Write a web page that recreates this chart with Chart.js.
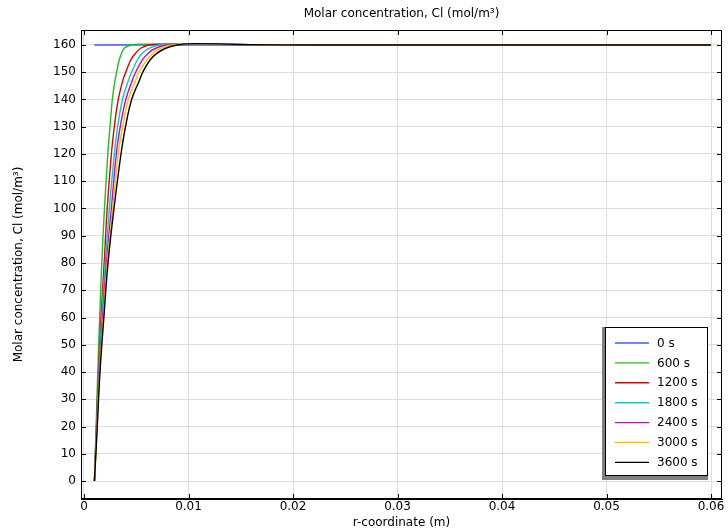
<!DOCTYPE html>
<html>
<head>
<meta charset="utf-8">
<script src="https://cdn.jsdelivr.net/npm/chart.js@4"></script>
<style>
  html, body { margin: 0; padding: 0; background: #fff; }
  #wrap { width: 728px; height: 530px; position: relative; }
</style>
</head>
<body>
<div id="wrap"><canvas id="chart"></canvas></div>
<script>
// concentration levels shared by the rising part of each profile (mol/m^3)
const riseConc = [0, 20, 40, 60, 80, 100, 120, 130, 140, 147, 150, 154.5, 157, 158.8, 160]

// r-coordinate (m) where each time step reaches those levels
const r600 = [0.001, 0.00116, 0.00132, 0.0015, 0.0017, 0.00196, 0.00228, 0.00249, 0.00271, 0.00297, 0.00312, 0.00337, 0.0036, 0.00385, 0.0045]
const r1200 = [0.001, 0.00119, 0.00139, 0.00163, 0.00193, 0.00222, 0.00262, 0.0029, 0.00328, 0.00372, 0.004, 0.00447, 0.00494, 0.00543, 0.0062]
const r1800 = [0.001, 0.00121, 0.00143, 0.0017, 0.00204, 0.00243, 0.0029, 0.00322, 0.00368, 0.00425, 0.00456, 0.0051, 0.00558, 0.00622, 0.0072]
const r2400 = [0.001, 0.00123, 0.00147, 0.00179, 0.00215, 0.00262, 0.00309, 0.00347, 0.004, 0.00462, 0.00494, 0.00558, 0.00615, 0.00686, 0.0079]
const r3000 = [0.001, 0.00125, 0.0015, 0.00185, 0.00223, 0.00275, 0.00328, 0.0037, 0.00424, 0.00494, 0.00526, 0.006, 0.0066, 0.00734, 0.0084]
const r3600 = [0.001, 0.00127, 0.00153, 0.0019, 0.0023, 0.00287, 0.00354, 0.00397, 0.00456, 0.0053, 0.00562, 0.00632, 0.007, 0.00782, 0.0089]

// small overshoot just past the front, then flat
const peakR = [0.0058, 0.0075, 0.0085, 0.0093, 0.0099, 0.0106]
const peakConc = [160.25, 160.3, 160.35, 160.4, 160.45, 160.5]
const tailR = [0.016, 0.022, 0.06]
const tailConc = [160.15, 160, 160]

// initial profile
const r0 = [0.001, 0.06]
const c0 = [160, 160]

const seriesNames = ['0 s', '600 s', '1200 s', '1800 s', '2400 s', '3000 s', '3600 s']
const seriesColors = ['#3a5cff', '#22bb22', '#e00000', '#00cccc', '#cc00cc', '#ffbf00', '#000000']

const xTicks = [0, 0.01, 0.02, 0.03, 0.04, 0.05, 0.06]
const yTicks = [0, 10, 20, 30, 40, 50, 60, 70, 80, 90, 100, 110, 120, 130, 140, 150, 160]

const FONT = 'DejaVu Sans'

const toPoints = (xs, ys) => xs.map((x, i) => ({ x: x, y: ys[i] }))

const risingSets = [r600, r1200, r1800, r2400, r3000, r3600]
const seriesData = [toPoints(r0, c0)].concat(risingSets.map((rs, i) =>
  toPoints(rs, riseConc)
    .concat([{ x: peakR[i], y: peakConc[i] }])
    .concat(toPoints(tailR, tailConc))
))

const datasets = seriesNames.map((name, i) => ({
  label: name,
  data: seriesData[i],
  borderColor: seriesColors[i],
  backgroundColor: seriesColors[i],
  borderWidth: 1.4,
  pointRadius: 0,
  tension: 0.4,
  order: seriesNames.length - i,
}))

// frame, inward tick marks and the boxed legend
const framePlugin = {
  id: 'frame',
  afterDatasetsDraw(chart) {
    const { ctx, chartArea: a, scales } = chart
    ctx.save()
    ctx.strokeStyle = '#000'
    ctx.lineWidth = 1
    ctx.beginPath()
    yTicks.forEach(v => {
      const py = Math.round(scales.y.getPixelForValue(v)) + 0.5
      ctx.moveTo(a.left, py); ctx.lineTo(a.left + 5, py)
      ctx.moveTo(a.right, py); ctx.lineTo(a.right - 5, py)
    })
    xTicks.forEach(v => {
      const px = Math.round(scales.x.getPixelForValue(v)) + 0.5
      ctx.moveTo(px, a.bottom); ctx.lineTo(px, a.bottom - 5)
      ctx.moveTo(px, a.top); ctx.lineTo(px, a.top + 5)
    })
    ctx.stroke()
    ctx.strokeRect(Math.round(a.left) + 0.5, Math.round(a.top) + 0.5,
      Math.round(a.right - a.left) - 1, Math.round(a.bottom - a.top) - 1)

    // legend
    const boxR = a.right - 14
    const boxB = a.bottom - 23
    const boxW = 103
    const boxH = 149
    const boxL = boxR - boxW
    const boxT = boxB - boxH
    ctx.fillStyle = '#808080'
    ctx.fillRect(boxL - 3, boxT, boxW + 3, boxH + 4)
    ctx.fillStyle = '#fff'
    ctx.fillRect(boxL, boxT, boxW, boxH)
    ctx.strokeStyle = '#000'
    ctx.strokeRect(boxL + 0.5, boxT + 0.5, boxW - 1, boxH - 1)
    ctx.font = '12px "' + FONT + '"'
    ctx.textBaseline = 'middle'
    ctx.textAlign = 'left'
    seriesNames.forEach((name, i) => {
      const y = boxT + 16 + i * 19.9
      ctx.strokeStyle = seriesColors[i]
      ctx.lineWidth = 1.4
      ctx.beginPath()
      ctx.moveTo(boxL + 10, y); ctx.lineTo(boxL + 44, y)
      ctx.stroke()
      ctx.fillStyle = '#000'
      ctx.fillText(name, boxL + 52, y + 0.5)
    })
    ctx.restore()
  }
}

new Chart(document.getElementById('chart'), {
  type: 'line',
  data: { datasets: datasets },
  options: {
    responsive: true,
    maintainAspectRatio: false,
    animation: false,
    layout: { padding: { left: 0, right: 6, top: 0, bottom: 0 } },
    plugins: {
      legend: { display: false },
      tooltip: { enabled: false },
      title: {
        display: true,
        fullSize: false,
        text: 'Molar concentration, Cl (mol/m³)',
        color: '#000',
        font: { family: FONT, size: 12, weight: 'normal' },
        padding: { top: 7, bottom: 8.6 },
      },
    },
    scales: {
      x: {
        type: 'linear',
        min: -0.000287,
        max: 0.06105,
        afterFit: s => { s.height = 31 },
        afterBuildTicks: s => { s.ticks = xTicks.map(v => ({ value: v })) },
        ticks: {
          color: '#000',
          font: { family: FONT, size: 12 },
          padding: 1,
          maxRotation: 0,
          autoSkip: false,
          callback: v => String(v),
        },
        grid: { color: '#dedede', drawTicks: false },
        border: { color: '#000' },
        title: {
          display: true,
          text: 'r-coordinate (m)',
          color: '#000',
          font: { family: FONT, size: 12 },
          padding: { top: 0, bottom: 0 },
        },
      },
      y: {
        type: 'linear',
        min: -6.6,
        max: 165.5,
        afterFit: s => { s.width = 81 },
        afterBuildTicks: s => { s.ticks = yTicks.map(v => ({ value: v })) },
        ticks: {
          color: '#000',
          font: { family: FONT, size: 12 },
          padding: 5,
          autoSkip: false,
          callback: v => String(v),
        },
        grid: { color: '#dedede', drawTicks: false },
        border: { color: '#000' },
        title: {
          display: true,
          text: 'Molar concentration, Cl (mol/m³)',
          color: '#000',
          font: { family: FONT, size: 12 },
          padding: { top: 12, bottom: 0 },
        },
      },
    },
  },
  plugins: [framePlugin],
})
</script>
</body>
</html>
